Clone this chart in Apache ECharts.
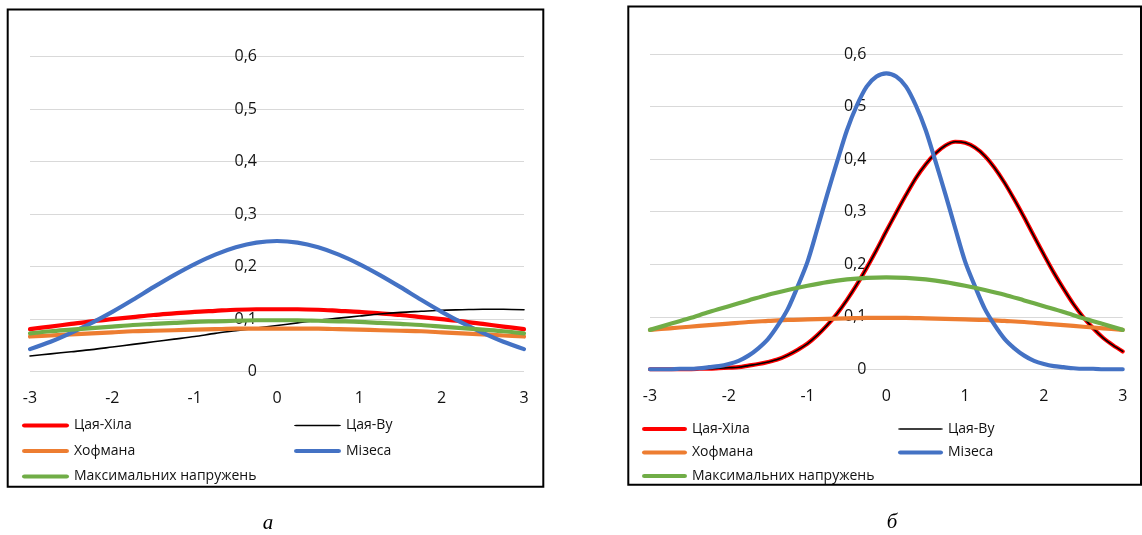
<!DOCTYPE html>
<html>
<head>
<meta charset="utf-8">
<style>
  html, body { margin: 0; padding: 0; background: #fff; }
  #chart { width: 1142px; height: 535px; }
</style>
<script src="https://cdn.jsdelivr.net/npm/echarts@6/dist/echarts.min.js"></script>
</head>
<body>
<div id="chart"></div>
<script>
// Abscissae: a coarse step for the flat curves, a fine step for the narrow peaks
const xValues = [-3, -2.75, -2.5, -2.25, -2, -1.75, -1.5, -1.25, -1, -0.75, -0.5, -0.25, 0,
                 0.25, 0.5, 0.75, 1, 1.25, 1.5, 1.75, 2, 2.25, 2.5, 2.75, 3];
const xValuesFine = [-3, -2.875, -2.75, -2.625, -2.5, -2.375, -2.25, -2.125, -2, -1.875, -1.75, -1.625,
                     -1.5, -1.375, -1.25, -1.125, -1, -0.875, -0.75, -0.625, -0.5, -0.375, -0.25, -0.125, 0,
                     0.125, 0.25, 0.375, 0.5, 0.625, 0.75, 0.875, 1, 1.125, 1.25, 1.375, 1.5, 1.625,
                     1.75, 1.875, 2, 2.125, 2.25, 2.375, 2.5, 2.625, 2.75, 2.875, 3];
const xTickLabels = ['-3', '-2', '-1', '0', '1', '2', '3'];
const yTickLabels = ['0', '0,1', '0,2', '0,3', '0,4', '0,5', '0,6'];
const seriesNames = ['Цая-Хіла', 'Цая-Ву', 'Хофмана', 'Мізеса', 'Максимальних напружень'];
const panelCaptions = ['а', 'б'];

// Panel а (step 0.25)
const tsaiHillA  = [0.081, 0.086, 0.091, 0.096, 0.100, 0.104, 0.108, 0.111, 0.114, 0.116, 0.118, 0.119, 0.119,
                    0.119, 0.118, 0.116, 0.114, 0.111, 0.108, 0.104, 0.100, 0.096, 0.091, 0.086, 0.081];
const tsaiWuA    = [0.030, 0.034, 0.038, 0.042, 0.047, 0.052, 0.057, 0.062, 0.067, 0.073, 0.078, 0.083, 0.088,
                    0.093, 0.098, 0.102, 0.106, 0.110, 0.113, 0.115, 0.117, 0.118, 0.119, 0.119, 0.118];
const hoffmanA   = [0.067, 0.069, 0.071, 0.073, 0.075, 0.077, 0.078, 0.079, 0.080, 0.081, 0.082, 0.082, 0.082,
                    0.082, 0.082, 0.081, 0.080, 0.079, 0.078, 0.077, 0.075, 0.073, 0.071, 0.069, 0.067];
const misesA     = [0.043, 0.057, 0.074, 0.093, 0.114, 0.137, 0.161, 0.184, 0.205, 0.223, 0.237, 0.246, 0.249,
                    0.246, 0.237, 0.223, 0.205, 0.184, 0.161, 0.137, 0.114, 0.093, 0.074, 0.057, 0.043];
const maxStressA = [0.073, 0.077, 0.080, 0.083, 0.086, 0.089, 0.091, 0.093, 0.095, 0.096, 0.097, 0.098, 0.098,
                    0.098, 0.097, 0.096, 0.095, 0.093, 0.091, 0.089, 0.086, 0.083, 0.080, 0.077, 0.073];

// Panel б: Tsai-Hill, Tsai-Wu and Mises on the fine step, the rest on the coarse step
const tsaiHillB  = [0.000, 0.000, 0.000, 0.000, 0.000, 0.001, 0.001, 0.002, 0.003, 0.004, 0.007, 0.010,
                    0.014, 0.019, 0.027, 0.037, 0.049, 0.065, 0.084, 0.106, 0.132, 0.161, 0.193, 0.227, 0.263,
                    0.298, 0.332, 0.364, 0.390, 0.411, 0.426, 0.433, 0.431, 0.422, 0.406, 0.383, 0.355, 0.323,
                    0.289, 0.253, 0.218, 0.184, 0.153, 0.124, 0.099, 0.078, 0.060, 0.046, 0.034];
const tsaiWuB    = [0.000, 0.000, 0.000, 0.000, 0.000, 0.001, 0.001, 0.002, 0.003, 0.004, 0.007, 0.010,
                    0.014, 0.019, 0.027, 0.037, 0.049, 0.065, 0.084, 0.106, 0.132, 0.161, 0.193, 0.227, 0.263,
                    0.298, 0.332, 0.364, 0.390, 0.411, 0.426, 0.433, 0.431, 0.422, 0.406, 0.383, 0.355, 0.323,
                    0.289, 0.253, 0.218, 0.184, 0.153, 0.124, 0.099, 0.078, 0.060, 0.046, 0.034];
const misesB     = [0.000, 0.000, 0.000, 0.001, 0.001, 0.002, 0.004, 0.006, 0.010, 0.016, 0.026, 0.040,
                    0.058, 0.084, 0.115, 0.158, 0.205, 0.268, 0.333, 0.395, 0.455, 0.502, 0.538, 0.557, 0.563,
                    0.557, 0.538, 0.502, 0.455, 0.395, 0.333, 0.268, 0.205, 0.158, 0.115, 0.084, 0.058, 0.040,
                    0.026, 0.016, 0.010, 0.006, 0.004, 0.002, 0.001, 0.001, 0.000, 0.000, 0.000];
const hoffmanB   = [0.075, 0.078, 0.081, 0.084, 0.087, 0.090, 0.092, 0.094, 0.095, 0.096, 0.097, 0.098, 0.098,
                    0.098, 0.097, 0.096, 0.095, 0.094, 0.092, 0.090, 0.087, 0.084, 0.081, 0.078, 0.075];
const maxStressB = [0.075, 0.086, 0.097, 0.109, 0.120, 0.131, 0.142, 0.151, 0.159, 0.166, 0.171, 0.174, 0.175,
                    0.174, 0.171, 0.166, 0.159, 0.151, 0.142, 0.131, 0.120, 0.109, 0.097, 0.086, 0.075];

const FONT = '"Open Sans", "Noto Sans", sans-serif';
const COLORS = ['#FF0000', '#000000', '#ED7D31', '#4472C4', '#70AD47'];
const WIDTHS = [4.2, 1.6, 4.2, 4.2, 4.2];
// legend swatch: a bar with rounded ends, stretched to the item box
const SWATCH = 'path://M5,0 H95 A5,5 0 0 1 95,10 H5 A5,5 0 0 1 5,0 Z';

const panels = [
  { grid: { left: 30, top: 56.7, width: 494, height: 315 },
    xs: [xValues, xValues, xValues, xValues, xValues],
    values: [tsaiHillA, tsaiWuA, hoffmanA, misesA, maxStressA],
    legendLeft: [22, 294], legendRows: [424, 449.5, 475], legendLine: 47,
    box: [7.7, 9.5, 543.3, 486.7], caption: [268, 523] },
  { grid: { left: 650, top: 54, width: 472.7, height: 315.3 },
    xs: [xValuesFine, xValuesFine, xValues, xValuesFine, xValues],
    values: [tsaiHillB, tsaiWuB, hoffmanB, misesB, maxStressB],
    legendLeft: [642, 898], legendRows: [427.5, 451, 474.5], legendLine: 45,
    box: [628.3, 6.5, 1141, 484.7], caption: [892, 522] }
];

const pairs = (xs, ys) => xs.map((x, i) => [x, ys[i]]);

const grids = [], xAxes = [], yAxes = [], series = [], legends = [], graphics = [];

panels.forEach((p, pi) => {
  grids.push(p.grid);

  xAxes.push({
    type: 'value', gridIndex: pi, min: -3, max: 3, interval: 1,
    axisLine: { show: false }, axisTick: { show: false }, splitLine: { show: false },
    axisLabel: {
      margin: 19, fontFamily: FONT, fontSize: 16, color: '#111',
      formatter: (v) => xTickLabels[Math.round(v) + 3]
    }
  });

  // vertical axis crosses the horizontal one at x = 0 (middle of the symmetric range)
  yAxes.push({
    type: 'value', gridIndex: pi, min: 0, max: 0.6, interval: 0.1,
    position: 'left', offset: -p.grid.width / 2,
    axisLine: { show: false }, axisTick: { show: false },
    splitLine: { show: true, lineStyle: { color: '#D9D9D9', width: 1.2 } },
    axisLabel: {
      margin: 20, fontFamily: FONT, fontSize: 16, color: '#111',
      formatter: (v) => yTickLabels[Math.round(v * 10)]
    }
  });

  seriesNames.forEach((name, si) => {
    series.push({
      type: 'line', name, xAxisIndex: pi, yAxisIndex: pi,
      data: pairs(p.xs[si], p.values[si]),
      smooth: 0.3, symbol: 'none', silent: true,
      lineStyle: { color: COLORS[si], width: WIDTHS[si], cap: 'round', join: 'round' },
      itemStyle: { color: COLORS[si] }
    });
  });

  // two-column legend: rows (0,1), (2,3), (4)
  seriesNames.forEach((name, si) => {
    const col = si % 2;
    const row = Math.floor(si / 2);
    legends.push({
      data: [{ name, icon: SWATCH, itemStyle: { color: COLORS[si] } }],
      left: p.legendLeft[col], top: p.legendRows[row] - 5.5,
      padding: 0, itemWidth: p.legendLine, itemHeight: WIDTHS[si], itemGap: 0,
      symbolKeepAspect: false,
      selectedMode: false,
      textStyle: { fontFamily: FONT, fontSize: 14, color: '#111' }
    });
  });

  const [x0, y0, x1, y1] = p.box;
  graphics.push({
    type: 'rect', silent: true, z: -10,
    shape: { x: x0, y: y0, width: x1 - x0, height: y1 - y0 },
    style: { fill: 'none', stroke: '#000', lineWidth: 2 }
  });
  graphics.push({
    type: 'text', silent: true,
    x: p.caption[0], y: p.caption[1],
    style: {
      text: panelCaptions[pi], fill: '#000', align: 'center', verticalAlign: 'middle',
      font: 'italic 21px "Liberation Serif", "DejaVu Serif", serif'
    }
  });
});

const chart = echarts.init(document.getElementById('chart'), null, { renderer: 'canvas' });
chart.setOption({
  animation: false,
  backgroundColor: '#fff',
  grid: grids,
  xAxis: xAxes,
  yAxis: yAxes,
  legend: legends,
  series,
  graphic: graphics
});
</script>
</body>
</html>
